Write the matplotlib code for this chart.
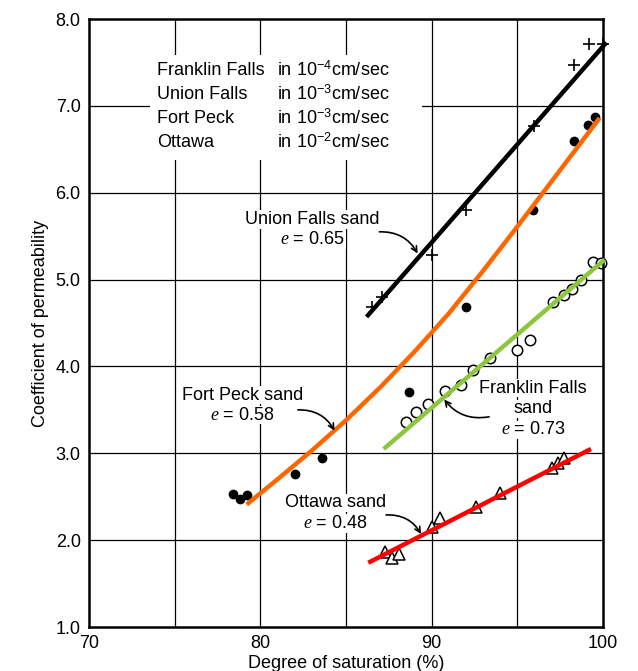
import matplotlib
matplotlib.use("Agg")
import matplotlib.pyplot as plt
from matplotlib.patches import Rectangle

plt.rcParams['font.family'] = ['Liberation Sans', 'DejaVu Sans']
plt.rcParams['mathtext.fontset'] = 'custom'
plt.rcParams['mathtext.rm'] = 'Liberation Sans'
plt.rcParams['mathtext.it'] = 'Liberation Serif:italic'

# ---------------- data ----------------
x_ticks = [70, 80, 90, 100]
y_ticks = [1.0, 2.0, 3.0, 4.0, 5.0, 6.0, 7.0, 8.0]
y_tick_labels = ["1.0", "2.0", "3.0", "4.0", "5.0", "6.0", "7.0", "8.0"]

# Union Falls sand (+)
union_x = [86.5, 87.1, 90.0, 92.0, 96.0, 98.3, 99.2, 100.0]
union_y = [4.68, 4.80, 5.28, 5.80, 6.77, 7.47, 7.71, 7.71]
union_line_x = [86.2, 100.2]
union_line_y = [4.57, 7.73]

# Fort Peck sand (filled dots)
fp_x = [78.4, 78.8, 79.2, 82.0, 83.6, 88.7, 92.0, 95.9, 98.3, 99.15, 99.55]
fp_y = [2.53, 2.47, 2.52, 2.76, 2.94, 3.71, 4.68, 5.80, 6.60, 6.78, 6.87]
fp_line_x = [79.2, 81.0, 83.0, 85.0, 87.0, 89.0, 91.0, 93.0, 95.0, 97.0, 99.8]
fp_line_y = [2.41, 2.70, 3.03, 3.38, 3.76, 4.17, 4.61, 5.10, 5.61, 6.13, 6.86]

# Franklin Falls sand (open circles)
ff_x = [88.5, 89.1, 89.8, 90.8, 91.7, 92.4, 93.4, 95.0, 95.75, 97.1, 97.7, 98.2, 98.7, 99.4, 99.9]
ff_y = [3.36, 3.47, 3.57, 3.72, 3.79, 3.96, 4.10, 4.19, 4.30, 4.74, 4.82, 4.89, 5.00, 5.20, 5.19]
ff_line_x = [87.2, 100.1]
ff_line_y = [3.05, 5.23]

# Ottawa sand (open triangles)
ot_x = [87.3, 87.7, 88.1, 90.0, 90.5, 92.6, 94.0, 97.0, 97.4, 97.7]
ot_y = [1.86, 1.80, 1.84, 2.15, 2.25, 2.38, 2.54, 2.83, 2.89, 2.95]
ot_line_x = [86.3, 99.3]
ot_line_y = [1.74, 3.05]

legend_names = ["Franklin Falls", "Union Falls", "Fort Peck", "Ottawa"]
legend_units = ["in 10$^{-4}$cm/sec", "in 10$^{-3}$cm/sec",
                "in 10$^{-3}$cm/sec", "in 10$^{-2}$cm/sec"]

# ---------------- figure ----------------
W, H = 638, 671
fig = plt.figure(figsize=(W / 100, H / 100), dpi=100)
ax = fig.add_axes([89 / W, 1 - 627 / H, (603 - 89) / W, (627 - 19) / H])
ax.set_xlim(70, 100)
ax.set_ylim(1.0, 8.0)

# grid
for gx in [75, 80, 85, 90, 95]:
    ax.axvline(gx, color='black', lw=0.9, zorder=1)
for gy in [2, 3, 4, 5, 6, 7]:
    ax.axhline(gy, color='black', lw=0.9, zorder=1)

for s in ax.spines.values():
    s.set_linewidth(1.8)

ax.set_xticks(x_ticks)
ax.set_yticks(y_ticks)
ax.set_yticklabels(y_tick_labels)
ax.tick_params(length=0, labelsize=13, pad=6)

ax.set_xlabel("Degree of saturation (%)", fontsize=13, labelpad=2)
ax.set_ylabel("Coefficient of permeability", fontsize=13, labelpad=5)

# white box behind unit legend
ax.add_patch(Rectangle((73.55, 6.38), 89.45 - 73.55, 7.59 - 6.38,
                       facecolor='white', edgecolor='none', zorder=1.5))
leg_y = [7.41, 7.13, 6.86, 6.58]
for name, unit, yy in zip(legend_names, legend_units, leg_y):
    ax.text(73.95, yy, name, fontsize=13, va='center', ha='left', zorder=2)
    ax.text(80.95, yy, unit, fontsize=13, va='center', ha='left', zorder=2)

# markers
ax.plot(union_x, union_y, ls='none', marker='+', ms=9, mew=1.2, color='black',
        zorder=2.5, clip_on=False)
ax.plot(fp_x, fp_y, ls='none', marker='o', ms=6, color='black', zorder=2.5, clip_on=False)
ax.plot(ff_x, ff_y, ls='none', marker='o', ms=7.5, mfc='white', mec='black', mew=1.1,
        zorder=2.5, clip_on=False)
ax.plot(ot_x, ot_y, ls='none', marker='^', ms=8.5, mfc='white', mec='black', mew=1.1,
        zorder=2.5, clip_on=False)

# fitted lines
ax.plot(union_line_x, union_line_y, color='black', lw=3.2, zorder=3,
        solid_capstyle='butt', clip_on=False)
ax.plot(fp_line_x, fp_line_y, color='#ff6600', lw=3.2, zorder=3,
        solid_capstyle='butt', solid_joinstyle='round')
ax.plot(ff_line_x, ff_line_y, color='#8cc63f', lw=3.2, zorder=3,
        solid_capstyle='butt', clip_on=False)
ax.plot(ot_line_x, ot_line_y, color='#ff0000', lw=3.2, zorder=3, solid_capstyle='butt')

# labels with arrows
def label(lines, xc, ys, arrow_from, arrow_to, rad):
    for t, yy in zip(lines, ys):
        ax.text(xc, yy, t, fontsize=13, ha='center', va='center', zorder=2,
                bbox=dict(facecolor='white', edgecolor='none', pad=0.5))
    ax.annotate("", xy=arrow_to, xytext=arrow_from,
                arrowprops=dict(arrowstyle='->', color='black', lw=1.2,
                                connectionstyle=f"arc3,rad={rad}",
                                shrinkA=0, shrinkB=0), zorder=4)

label(["Union Falls sand", "$e$ = 0.65"], 83.05, [5.69, 5.46],
      (86.95, 5.55), (89.18, 5.30), -0.3)
label(["Fort Peck sand", "$e$ = 0.58"], 78.94, [3.67, 3.44],
      (82.19, 3.50), (84.33, 3.26), -0.3)
label(["Franklin Falls", "sand", "$e$ = 0.73"], 95.92, [3.75, 3.51, 3.27],
      (93.35, 3.42), (90.73, 3.62), -0.3)
label(["Ottawa sand", "$e$ = 0.48"], 84.4, [2.43, 2.19],
      (87.34, 2.29), (89.38, 2.07), -0.3)

fig.savefig("out.png", dpi=100)
